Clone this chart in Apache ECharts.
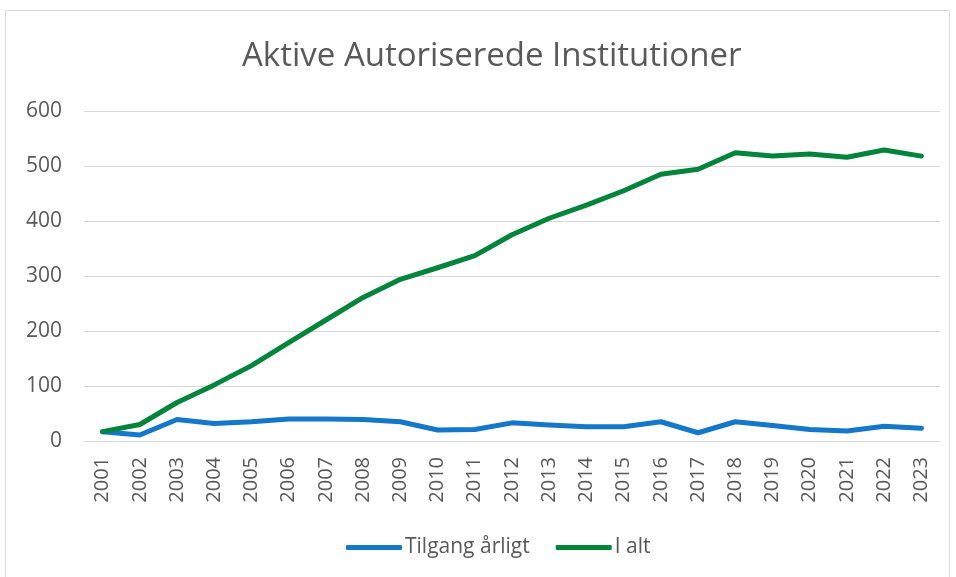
<!DOCTYPE html>
<html>
<head>
<meta charset="UTF-8">
<title>Aktive Autoriserede Institutioner</title>
<script src="https://cdn.jsdelivr.net/npm/echarts@6/dist/echarts.min.js"></script>
<style>
  html, body { margin: 0; padding: 0; background: #fff; }
  #main { width: 956px; height: 577px; }
</style>
</head>
<body>
<div id="main"></div>
<script>
var years = ['2001','2002','2003','2004','2005','2006','2007','2008','2009','2010','2011','2012',
             '2013','2014','2015','2016','2017','2018','2019','2020','2021','2022','2023'];
var tilgang = [17, 11, 39, 32, 35, 40, 40, 39, 35, 20, 21, 33, 29, 26, 26, 35, 15, 35, 28, 21, 18, 27, 23];
var iAlt = [17, 30, 70, 102, 137, 179, 220, 261, 294, 315, 337, 375, 405, 429, 455, 485, 494, 524, 518, 522, 516, 529, 518];

var txt = '#595959';
var font = '"Open Sans", "Liberation Sans", sans-serif';

var chart = echarts.init(document.getElementById('main'));
chart.setOption({
  animation: false,
  textStyle: { fontFamily: font },
  title: {
    text: 'Aktive Autoriserede Institutioner',
    left: 237,
    top: 35,
    textStyle: { color: txt, fontSize: 33, fontWeight: 'normal', fontFamily: font }
  },
  graphic: [{
    type: 'rect',
    shape: { x: 5.5, y: 10.5, width: 944, height: 580 },
    style: { fill: 'none', stroke: '#d9d9d9', lineWidth: 1 },
    silent: true
  }],
  legend: {
    bottom: 14,
    left: 341,
    itemWidth: 56,
    itemHeight: 5,
    itemGap: 26,
    icon: 'roundRect',
    textStyle: { color: txt, fontSize: 21, fontFamily: font, padding: [0, 0, 0, -2] },
    data: ['Tilgang årligt', 'I alt']
  },
  grid: { left: 84, right: 16, top: 111, bottom: 136, containLabel: false },
  xAxis: {
    type: 'category',
    data: years,
    boundaryGap: true,
    axisLine: { lineStyle: { color: '#d9d9d9', width: 1 } },
    axisTick: { show: false },
    axisLabel: { rotate: 90, color: txt, fontSize: 20, margin: 16, interval: 0 }
  },
  yAxis: {
    type: 'value',
    min: 0,
    max: 600,
    interval: 100,
    axisLine: { show: false },
    axisTick: { show: false },
    axisLabel: { color: txt, fontSize: 21, margin: 22 },
    splitLine: { lineStyle: { color: '#d9d9d9', width: 1 } }
  },
  series: [{
    name: 'Tilgang årligt',
    type: 'line',
    data: tilgang,
    symbol: 'none',
    color: '#1577c9',
    lineStyle: { width: 5, color: '#1577c9', cap: 'round', join: 'round' }
  }, {
    name: 'I alt',
    type: 'line',
    data: iAlt,
    symbol: 'none',
    color: '#00843c',
    lineStyle: { width: 5, color: '#00843c', cap: 'round', join: 'round' }
  }]
});
</script>
</body>
</html>
